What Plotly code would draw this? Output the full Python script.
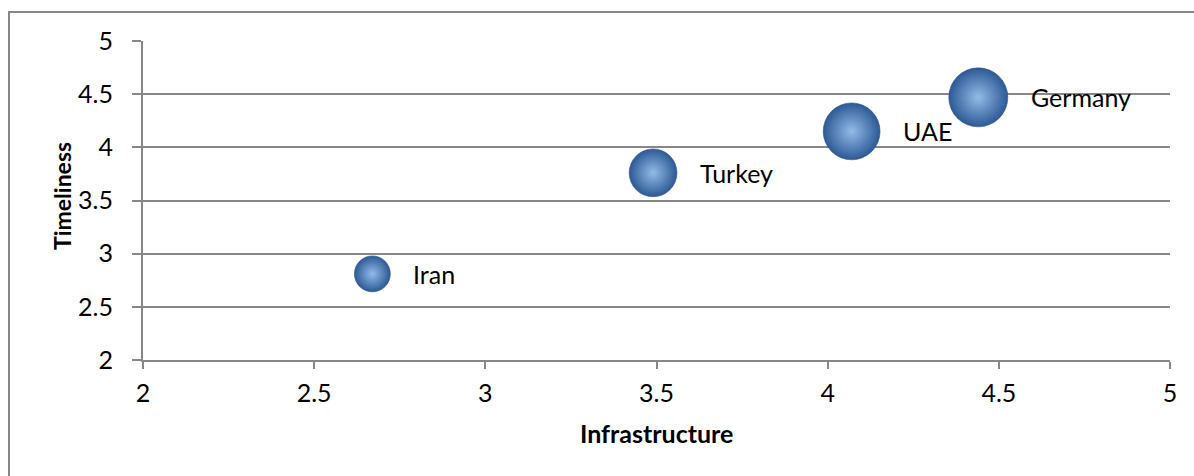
import plotly.graph_objects as go
import math

countries = ["Iran", "Turkey", "UAE", "Germany"]
infrastructure = [2.67, 3.49, 4.07, 4.44]
timeliness = [2.81, 3.76, 4.15, 4.47]
bubble_size = [1.3, 2.3, 3.25, 3.5]

x_ticks = [2, 2.5, 3, 3.5, 4, 4.5, 5]
y_ticks = [2, 2.5, 3, 3.5, 4, 4.5, 5]

W, H = 1194, 476
ML, MR, MT, MB = 143, 24, 41, 116
MAX_DIAM = 59
sizeref = 2 * max(bubble_size) / MAX_DIAM ** 2
FONT = "Lato, Open Sans, sans-serif"
GRAY = "#878787"

fig = go.Figure()
fig.add_trace(go.Scatter(
    x=infrastructure, y=timeliness, mode="markers",
    marker=dict(size=bubble_size, sizemode="area", sizeref=sizeref,
                color="#2c5a95",
                gradient=dict(type="radial", color="#94bbe9"),
                line=dict(width=0.6, color="#2b568c"), opacity=1),
    hovertext=countries, showlegend=False,
))

for name, xv, yv, s in zip(countries, infrastructure, timeliness, bubble_size):
    r = math.sqrt(2 * s / sizeref) / 2
    fig.add_annotation(x=xv, y=yv, text=name, showarrow=False,
                       xanchor="left", yanchor="middle", xshift=r + 21,
                       font=dict(family=FONT, size=25, color="#000000"))

pw = W - ML - MR
ph = H - MT - MB
fig.add_shape(type="rect", xref="paper", yref="paper",
              x0=(9 - ML) / pw, x1=(W + 20 - ML) / pw,
              y0=-(H + 20 - MT - ph) / ph, y1=(ph + MT - 12) / ph,
              line=dict(color=GRAY, width=2), fillcolor="rgba(0,0,0,0)", layer="below")

# axis titles
fig.add_annotation(xref="paper", yref="paper", x=0.5, y=(360 - 433) / ph,
                   text="<b>Infrastructure</b>", showarrow=False,
                   xanchor="center", yanchor="middle",
                   font=dict(family=FONT, size=25, color="#000000"))
fig.add_annotation(xref="paper", yref="paper", x=(62 - ML) / pw, y=(360 - 196) / ph,
                   text="<b>Timeliness</b>", showarrow=False, textangle=-90,
                   xanchor="center", yanchor="middle",
                   font=dict(family=FONT, size=23, color="#000000"))

fig.update_layout(
    width=W, height=H,
    margin=dict(l=ML, r=MR, t=MT, b=MB, pad=0),
    paper_bgcolor="white", plot_bgcolor="white",
    font=dict(family=FONT, size=25, color="#000000"),
    xaxis=dict(range=[2, 5], tickvals=x_ticks, ticktext=[f"{v:g}" for v in x_ticks],
               showgrid=False, zeroline=False, showline=True, linecolor=GRAY, linewidth=2,
               ticks="outside", ticklen=7, tickwidth=2, tickcolor=GRAY,
               ticklabelstandoff=3, tickfont=dict(size=25)),
    yaxis=dict(range=[2, 5], tickvals=y_ticks, ticktext=[f"{v:g}" for v in y_ticks],
               showgrid=True, gridcolor=GRAY, gridwidth=2, zeroline=False,
               showline=True, linecolor=GRAY, linewidth=2,
               ticks="outside", ticklen=9, tickwidth=2, tickcolor=GRAY,
               ticklabelstandoff=14, tickfont=dict(size=25)),
)

fig.write_html("out.html")
